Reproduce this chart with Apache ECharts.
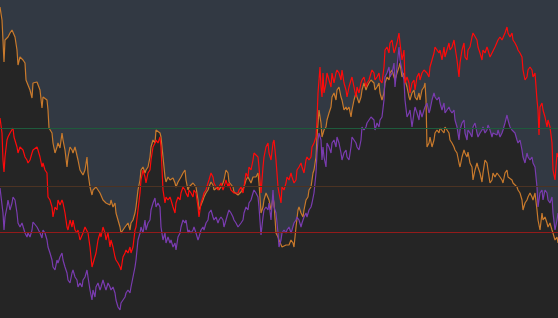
<!DOCTYPE html>
<html>
<head>
<meta charset="utf-8">
<script src="https://cdn.jsdelivr.net/npm/echarts@6/dist/echarts.min.js"></script>
<style>
html,body{margin:0;padding:0;background:#323943;}
#chart{width:558px;height:318px;}
</style>
</head>
<body>
<div id="chart"></div>
<script>
// Each point: [position along the time axis, depth below the top of the scale]
const orangePoints = [
[0,7],[2,20],[4,62],[5,40],[8,37],[10,33],[12,30],[15,37],[17,50],[18,65],[20,57],[22,55],[23,60],[25,63],[26,80],[28,82],[30,90],[32,98],[33,83],[37,82],[38,80],[40,90],[42,108],[43,97],[45,95],[47,100],[48,110],[49,128],[52,133],[53,143],[55,153],[57,147],[58,143],[60,148],[62,133],[63,140],[65,150],[67,167],[68,157],[70,147],[72,150],[73,153],[75,147],[77,145],[78,160],[80,170],[82,170],[83,175],[85,170],[87,157],[88,173],[90,187],[92,195],
[93,190],[96,187],[98,190],[100,193],[103,200],[106,203],[110,205],[111,200],[113,207],[115,203],[116,213],[118,220],[120,227],[121,233],[123,230],[125,227],[126,228],[128,223],[130,230],[131,223],[133,220],[135,213],[136,207],[138,190],[140,180],[141,170],[143,167],[145,173],[146,170],[148,167],[150,157],[151,147],[153,140],[155,143],[156,130],[158,128],[160,133],[161,137],[163,157],[165,177],[166,182],[168,177],[170,180],[171,182],[173,178],[175,183],[176,187],[178,182],[180,180],[181,177],[183,173],[185,170],
[186,180],[188,190],[189,187],[191,187],[193,183],[194,182],[196,187],[198,200],[199,210],[201,205],[203,200],[204,197],[206,193],[208,190],[209,187],[211,182],[213,185],[214,190],[216,192],[218,187],[219,190],[221,187],[223,183],[224,180],[226,170],[228,173],[229,182],[231,183],[233,187],[234,192],[236,193],[238,195],[239,193],[241,192],[243,190],[244,187],[246,180],[248,177],[249,178],[251,183],[253,177],[254,175],[256,177],[258,173],[259,183],[261,213],[263,207],[264,200],[266,193],[268,195],[269,200],[271,210],[273,197],[274,203],[276,233],[278,237],
[279,240],[281,240],[282,247],[284,248],[286,245],[288,243],[289,245],[291,240],[293,243],[294,247],[296,227],[298,210],[299,207],[301,213],[303,217],[304,210],[306,200],[308,197],[309,190],[311,187],[313,173],[314,170],[316,157],[317,137],[319,110],[321,123],[322,137],[324,130],[326,127],[327,120],[329,113],[331,107],[332,97],[334,93],[336,100],[337,90],[339,87],[341,97],[342,100],[344,110],[346,107],[347,110],[349,107],[351,117],[352,110],[354,100],[356,93],[357,97],[359,103],[361,97],[362,90],[364,83],[366,90],[367,87],[369,83],[371,80],
[372,80],[374,83],[375,90],[377,87],[379,83],[380,93],[382,100],[384,93],[385,83],[387,77],[389,80],[390,73],[392,70],[394,77],[395,80],[397,73],[399,67],[400,63],[402,77],[404,73],[405,80],[407,87],[409,97],[410,100],[412,93],[414,90],[415,97],[417,100],[419,93],[420,100],[422,90],[424,87],[425,83],[426,100],[427,147],[429,143],[430,137],[432,147],[434,140],[435,133],[437,130],[439,133],[440,128],[442,130],[444,133],[445,127],[447,130],[449,133],[450,140],[452,143],[454,147],[455,150],[457,153],[459,163],[460,167],[462,157],[464,150],
[465,153],[467,157],[468,152],[470,163],[472,167],[473,180],[475,170],[477,163],[478,167],[480,173],[482,182],[483,173],[485,160],[487,163],[488,170],[490,183],[492,180],[493,173],[495,177],[497,173],[498,175],[500,177],[502,180],[503,183],[505,173],[507,170],[508,177],[510,178],[512,180],[513,183],[515,185],[517,187],[518,190],[520,193],[522,200],[523,210],[525,203],[527,200],[528,197],[530,193],[532,197],[533,200],[535,193],[537,210],[538,220],[540,230],[542,213],[543,220],[545,217],[547,223],[548,227],[550,223],[552,230],[553,233],[555,240],[557,237],[558,243]
];

const redPoints = [
[0,118],[2,133],[3,160],[4,172],[5,157],[7,140],[8,137],[10,133],[12,133],[13,128],[14,137],[15,135],[17,147],[18,153],[20,147],[22,145],[23,150],[25,157],[27,160],[28,163],[30,160],[32,153],[33,150],[35,148],[37,147],[38,150],[40,157],[42,167],[43,163],[45,170],[47,173],[48,197],[50,200],[52,207],[53,217],[55,207],[57,210],[58,200],[60,205],[62,200],[63,203],[65,213],[67,227],[68,230],[70,220],[72,227],[73,220],[75,230],[77,233],[78,230],[80,240],[82,240],[83,233],[85,227],[87,225],[88,233],[90,247],[92,267],
[94,265],[96,253],[98,240],[100,233],[101,237],[103,227],[105,233],[106,240],[108,233],[110,247],[111,240],[113,247],[115,257],[116,260],[118,263],[120,267],[121,270],[123,257],[125,253],[126,250],[128,253],[130,247],[131,253],[133,247],[135,230],[136,227],[138,210],[140,193],[141,180],[143,170],[145,177],[146,183],[148,173],[150,170],[151,160],[153,147],[155,143],[156,140],[158,143],[160,137],[161,147],[163,190],[165,203],[166,197],[168,200],[170,197],[171,200],[173,207],[175,213],[176,203],[178,197],[180,200],[181,193],[183,187],[185,190],
[186,193],[188,197],[189,190],[191,193],[193,197],[194,190],[196,193],[198,207],[199,217],[201,203],[203,197],[204,193],[206,190],[208,183],[209,180],[211,173],[213,177],[214,183],[216,187],[218,190],[219,187],[221,183],[223,190],[224,187],[226,180],[228,187],[229,183],[231,190],[233,192],[234,193],[236,195],[238,193],[239,190],[241,187],[243,193],[244,187],[246,173],[248,177],[249,167],[251,170],[253,160],[254,153],[256,152],[258,157],[259,167],[261,193],[263,167],[264,157],[266,147],[268,143],[269,153],[271,160],[273,143],[274,140],[276,160],[278,187],
[279,193],[281,203],[282,187],[284,190],[286,183],[287,177],[289,180],[291,173],[292,177],[294,183],[296,180],[297,170],[299,167],[301,163],[302,167],[304,173],[306,160],[307,157],[309,160],[311,157],[312,147],[314,143],[316,137],[317,120],[318,93],[319,80],[320,67],[321,87],[322,97],[323,73],[324,93],[326,83],[327,73],[329,72],[331,87],[332,73],[334,83],[336,73],[337,70],[339,73],[341,80],[342,70],[344,83],[346,90],[347,97],[349,87],[351,80],[352,77],[354,87],[356,97],[357,87],[359,93],[361,83],[362,80],[364,77],[366,87],[367,83],[369,80],[371,73],
[372,70],[374,73],[375,80],[377,77],[379,73],[380,80],[382,83],[384,67],[385,50],[387,47],[389,53],[390,43],[392,40],[394,53],[395,50],[397,43],[399,33],[400,43],[402,60],[404,50],[405,83],[407,77],[409,83],[410,93],[412,83],[414,80],[415,90],[417,77],[419,73],[420,80],[422,73],[424,70],[425,72],[427,73],[429,77],[430,67],[432,60],[434,53],[435,47],[437,50],[439,53],[440,50],[442,60],[444,47],[445,57],[447,50],[449,43],[450,50],[452,47],[454,40],[455,47],[457,60],[459,77],[460,63],[462,50],[464,43],
[465,57],[467,60],[468,50],[470,47],[472,37],[473,33],[475,32],[477,40],[478,47],[480,53],[482,60],[483,50],[485,53],[487,47],[488,50],[490,57],[492,53],[493,52],[495,47],[497,47],[498,40],[500,37],[502,40],[503,40],[505,33],[507,27],[508,33],[510,37],[512,33],[513,40],[515,43],[517,47],[518,50],[520,53],[522,57],[523,70],[525,80],[527,77],[528,70],[530,67],[532,70],[533,77],[535,73],[537,100],[538,110],[539,135],[540,107],[542,103],[543,110],[545,117],[547,127],[548,120],[550,127],[552,143],[553,170],[555,180],[557,153],[558,157]
];

const purplePoints = [
[0,188],[2,190],[3,213],[4,230],[5,217],[7,207],[8,200],[10,210],[12,203],[13,197],[15,200],[17,213],[18,223],[20,227],[22,223],[23,222],[25,233],[27,237],[28,233],[30,237],[32,230],[33,222],[35,223],[37,227],[38,227],[40,233],[42,238],[43,230],[45,233],[47,240],[48,247],[50,253],[52,260],[53,267],[55,270],[57,260],[58,263],[60,257],[62,253],[63,260],[65,267],[67,273],[68,280],[70,283],[72,273],[73,270],[75,277],[77,280],[78,287],[80,283],[82,287],[83,280],[85,277],[87,270],[88,277],[90,290],[92,300],
[93,290],[95,297],[96,287],[98,283],[100,290],[101,287],[103,280],[105,287],[106,290],[108,283],[110,287],[111,290],[113,287],[115,293],[116,300],[118,307],[120,310],[121,303],[123,300],[125,297],[126,293],[128,290],[130,293],[131,287],[133,277],[135,267],[136,260],[138,240],[140,233],[141,227],[143,233],[145,220],[146,230],[148,223],[150,220],[151,210],[153,203],[155,198],[156,207],[158,203],[160,207],[161,227],[163,240],[165,233],[166,243],[168,237],[170,243],[171,240],[173,247],[175,243],[176,250],[178,237],[180,233],[181,227],[183,220],[185,223],
[186,220],[188,233],[189,230],[191,233],[193,230],[194,227],[196,233],[198,240],[199,237],[201,230],[203,227],[204,230],[206,223],[208,220],[209,213],[211,210],[213,217],[214,220],[216,217],[218,223],[219,220],[221,217],[223,220],[224,227],[226,220],[228,213],[229,210],[231,213],[233,217],[234,220],[236,223],[238,227],[239,227],[241,223],[243,220],[244,213],[246,207],[248,210],[249,203],[251,200],[253,193],[254,190],[256,193],[258,197],[259,207],[261,235],[263,217],[264,210],[266,207],[268,210],[269,203],[271,220],[273,190],[274,207],[276,213],[278,233],
[279,247],[281,240],[282,233],[284,230],[286,233],[287,230],[289,227],[291,233],[292,230],[294,223],[296,220],[297,217],[299,220],[301,227],[302,223],[304,217],[306,213],[307,217],[309,210],[311,207],[312,203],[314,193],[316,173],[317,153],[318,140],[319,133],[321,140],[322,160],[323,147],[324,157],[326,167],[327,143],[329,147],[331,153],[332,143],[334,140],[336,147],[337,137],[339,143],[341,153],[342,160],[344,153],[346,150],[347,157],[349,160],[351,147],[352,137],[354,140],[356,143],[357,147],[359,150],[361,140],[362,127],[364,130],[366,127],[367,123],[369,120],[371,117],
[372,117],[374,120],[375,130],[377,123],[379,127],[380,120],[382,117],[384,100],[385,77],[387,73],[389,67],[390,77],[392,73],[394,63],[395,87],[397,67],[399,47],[400,60],[402,70],[404,80],[405,100],[407,117],[409,113],[410,110],[412,127],[414,113],[415,107],[417,113],[419,120],[420,110],[422,117],[424,110],[425,107],[427,103],[429,113],[430,110],[432,100],[434,93],[435,97],[437,100],[439,97],[440,103],[442,110],[444,103],[445,113],[447,110],[449,107],[450,110],[452,113],[454,110],[455,120],[457,127],[459,140],[460,130],[462,123],[464,120],
[465,133],[467,140],[468,130],[470,133],[472,137],[473,127],[475,123],[477,133],[478,137],[480,133],[482,130],[483,127],[485,133],[487,130],[488,125],[490,130],[492,137],[493,133],[495,132],[497,135],[498,130],[500,137],[502,133],[503,130],[505,123],[507,115],[508,120],[510,127],[512,130],[513,128],[515,133],[517,140],[518,143],[520,140],[522,150],[523,157],[525,163],[527,153],[528,157],[530,160],[532,157],[533,163],[535,167],[537,187],[538,207],[540,193],[542,190],[543,200],[545,190],[547,193],[548,200],[550,203],[552,197],[553,213],[555,230],[557,220],[558,213]
];

// reference levels (same depth scale)
const levelValues = [128, 186, 232];
const levelColors = ['#1e5b3c', '#4c3323', '#921b1b'];

const chart = echarts.init(document.getElementById('chart'), null, {renderer: 'canvas'});

function areaSeries(name, data) {
  return {
    name: name + '-area', type: 'line', data: data, symbol: 'none', silent: true,
    z: 1, lineStyle: {width: 0, opacity: 0},
    areaStyle: {color: '#252525', opacity: 1, origin: 'end'}
  };
}
function lineSeries(name, data, color, extra) {
  return Object.assign({
    name: name, type: 'line', data: data, symbol: 'none', silent: true, z: 3,
    lineStyle: {width: 1.2, color: color}
  }, extra || {});
}

chart.setOption({
  animation: false,
  backgroundColor: '#323943',
  grid: {left: 0, right: 0, top: 0, bottom: 0},
  xAxis: {type: 'value', min: 0, max: 558, show: false, splitLine: {show: false}},
  yAxis: {type: 'value', min: 0, max: 318, inverse: true, show: false, splitLine: {show: false}},
  series: [
    areaSeries('orange', orangePoints),
    areaSeries('purple', purplePoints),
    lineSeries('orange', orangePoints, '#c97a2c', {
      markLine: {
        silent: true, symbol: 'none', label: {show: false},
        data: levelValues.map((v, i) => ({yAxis: v, lineStyle: {color: levelColors[i], width: 1, type: 'solid'}}))
      }
    }),
    lineSeries('purple', purplePoints, '#7a3cb0'),
    lineSeries('red', redPoints, '#ff0a0a')
  ]
});
</script>
</body>
</html>
